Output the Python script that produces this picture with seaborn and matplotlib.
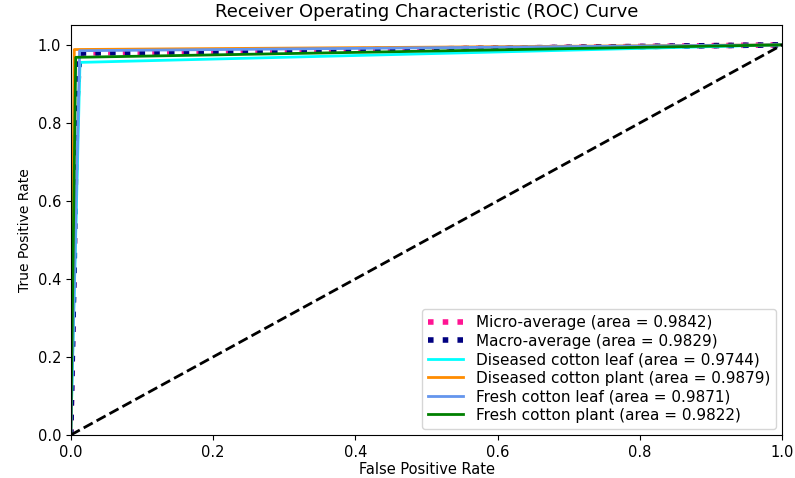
import matplotlib
matplotlib.use("Agg")
import matplotlib.pyplot as plt
import seaborn as sns

# ROC points
micro_fpr = [0.0, 0.010, 1.0]
micro_tpr = [0.0, 0.979, 1.0]
macro_fpr = [0.0, 0.005, 0.007, 0.0125, 0.013, 1.0]
macro_tpr = [0.0, 0.45, 0.80, 0.975, 0.979, 1.0]

class_names = ["Diseased cotton leaf", "Diseased cotton plant",
               "Fresh cotton leaf", "Fresh cotton plant"]
class_fpr = [[0.0, 0.013, 1.0], [0.0, 0.005, 1.0],
             [0.0, 0.0125, 1.0], [0.0, 0.007, 1.0]]
class_tpr = [[0.0, 0.955, 1.0], [0.0, 0.988, 1.0],
             [0.0, 0.985, 1.0], [0.0, 0.968, 1.0]]
class_auc = [0.9744, 0.9879, 0.9871, 0.9822]
micro_auc = 0.9842
macro_auc = 0.9829
class_colors = ["aqua", "darkorange", "cornflowerblue", "green"]

fig = plt.figure(figsize=(7.95, 4.78), dpi=100)
ax = fig.add_axes([0.089, 0.09, 0.895, 0.857])

for name, fx, ty, a, c in zip(class_names, class_fpr, class_tpr, class_auc, class_colors):
    pass

sns.lineplot(x=micro_fpr, y=micro_tpr, ax=ax, color="deeppink", lw=4,
             linestyle=":", sort=False, estimator=None,
             label=f"Micro-average (area = {micro_auc:.4f})")
sns.lineplot(x=macro_fpr, y=macro_tpr, ax=ax, color="navy", lw=4,
             linestyle=":", sort=False, estimator=None,
             label=f"Macro-average (area = {macro_auc:.4f})")
for name, fx, ty, a, c in zip(class_names, class_fpr, class_tpr, class_auc, class_colors):
    sns.lineplot(x=fx, y=ty, ax=ax, color=c, lw=2, sort=False, estimator=None,
                 label=f"{name} (area = {a:.4f})")
sns.lineplot(x=[0, 1], y=[0, 1], ax=ax, color="k", lw=2, linestyle="--",
             sort=False, estimator=None)

ax.set_xlim(0.0, 1.0)
ax.set_ylim(0.0, 1.05)
ax.set_xlabel("False Positive Rate", fontsize=10.5, labelpad=2)
ax.set_ylabel("True Positive Rate", fontsize=10)
ax.set_title("Receiver Operating Characteristic (ROC) Curve", fontsize=13)
ax.tick_params(labelsize=10.5)
ax.legend(loc="lower right", fontsize=11, labelspacing=0.23,
          handlelength=2.3, handletextpad=0.8, borderaxespad=0.4)

fig.savefig("out.png", dpi=100)
